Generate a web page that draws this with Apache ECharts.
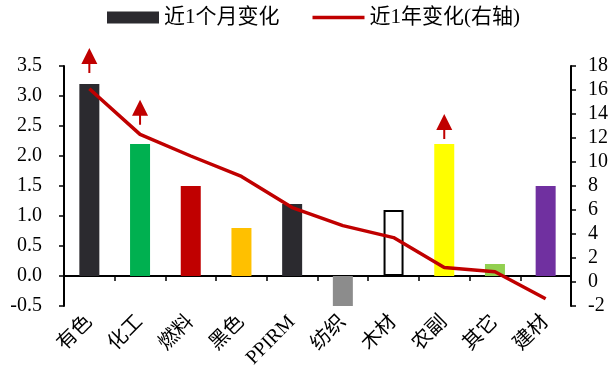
<!DOCTYPE html>
<html>
<head>
<meta charset="utf-8">
<script src="https://cdn.jsdelivr.net/npm/echarts@6/dist/echarts.min.js"></script>
<style>
  html, body { margin: 0; padding: 0; background: #fff; }
  #chart { width: 611px; height: 381px; }
</style>
</head>
<body>
<div id="chart"></div>
<script>
// Sectors on the category axis
const categories = ['有色', '化工', '燃料', '黑色', 'PPIRM', '纺织', '木材', '农副', '其它', '建材'];
// Change over the last month (left axis)
const monthChange = [3.2, 2.2, 1.5, 0.8, 1.2, -0.5, 1.1, 2.2, 0.2, 1.5];
// Change over the last year (right axis)
const yearChange = [16.1, 12.3, 10.5, 8.8, 6.2, 4.7, 3.7, 1.2, 0.85, -1.4];
// Upward arrow flags, level on the left axis (null = no arrow)
const upArrowAt = [3.59, 2.73, null, null, null, null, null, 2.49, null, null];
// Bar fill per sector
const barColors = ['#2B2A2F', '#00B050', '#C00000', '#FFC000', '#2B2A2F', '#8C8C8C', '#FFFFFF', '#FFFF00', '#92D050', '#7030A0'];

const FONT = '"Liberation Serif", "Noto Sans CJK SC", serif';
const RED = '#C00000';

const chart = echarts.init(document.getElementById('chart'), null, { renderer: 'canvas' });

const barData = monthChange.map((v, i) => {
  const item = { value: v, itemStyle: { color: barColors[i] } };
  if (barColors[i] === '#FFFFFF') {
    item.itemStyle.borderColor = '#000';
    item.itemStyle.borderWidth = 2;
  }
  return item;
});

chart.setOption({
  animation: false,
  backgroundColor: '#fff',
  textStyle: { fontFamily: FONT, color: '#000' },
  legend: {
    top: 2,
    left: 102,
    itemWidth: 52,
    itemHeight: 12,
    itemGap: 33,
    textStyle: { fontFamily: FONT, fontSize: 21, color: '#000' },
    data: [
      { name: '近1个月变化', icon: 'rect', itemStyle: { color: '#2B2A2F' } },
      { name: '近1年变化(右轴)', icon: 'path://M0,0H52V3.5H0Z', itemStyle: { color: RED } }
    ]
  },
  grid: { left: 64, right: 40, top: 66, bottom: 75 },
  xAxis: {
    type: 'category',
    data: categories,
    axisLine: { onZero: true, lineStyle: { color: '#000', width: 2 } },
    axisTick: { show: true, length: 5, inside: false, alignWithLabel: false, lineStyle: { color: '#000', width: 1.5 } },
    axisLabel: { rotate: 45, fontSize: 20, color: '#000', fontFamily: FONT, margin: 13, interval: 0 }
  },
  yAxis: [
    {
      type: 'value',
      min: -0.5, max: 3.5, interval: 0.5,
      splitLine: { show: false },
      axisLine: { show: true, lineStyle: { color: '#000', width: 2 } },
      axisTick: { show: true, length: 5, lineStyle: { color: '#000', width: 1.5 } },
      axisLabel: { fontSize: 20, color: '#000', fontFamily: FONT, margin: 22,
        formatter: v => v.toFixed(1) }
    },
    {
      type: 'value',
      min: -2, max: 18, interval: 2,
      position: 'right',
      splitLine: { show: false },
      axisLine: { show: true, lineStyle: { color: '#000', width: 2 } },
      axisTick: { show: true, length: 5, lineStyle: { color: '#000', width: 1.5 } },
      axisLabel: { fontSize: 20, color: '#000', fontFamily: FONT, margin: 17 }
    }
  ],
  series: [
    {
      name: '近1个月变化',
      type: 'bar',
      yAxisIndex: 0,
      barWidth: 20,
      data: barData,
      z: 2
    },
    {
      name: '近1年变化(右轴)',
      type: 'line',
      yAxisIndex: 1,
      data: yearChange,
      symbol: 'none',
      lineStyle: { color: RED, width: 3.5 },
      itemStyle: { color: RED },
      z: 3
    },
    {
      name: 'up-arrow',
      type: 'scatter',
      yAxisIndex: 0,
      data: upArrowAt,
      clip: false,
      symbol: 'path://M8,0L16,16L9,16L9,25L7,25L7,16L0,16Z',
      symbolSize: [16, 25],
      itemStyle: { color: RED, opacity: 1 },
      z: 4,
      silent: true
    }
  ]
});
</script>
</body>
</html>
